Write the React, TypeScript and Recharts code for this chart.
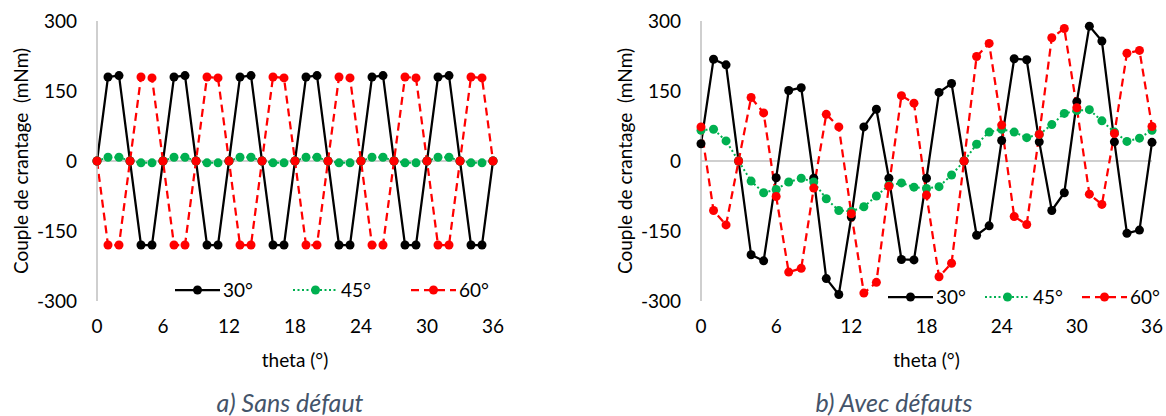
import { LineChart, Line, XAxis, YAxis, ReferenceLine } from "recharts";

const theta = [
  0, 1, 2, 3, 4, 5, 6, 7, 8, 9, 10, 11, 12, 13, 14, 15, 16, 17, 18,
  19, 20, 21, 22, 23, 24, 25, 26, 27, 28, 29, 30, 31, 32, 33, 34, 35, 36,
];
const xTicks = [0, 6, 12, 18, 24, 30, 36];
const yTicks = [-300, -150, 0, 150, 300];

// a) Sans défaut
const sans30 = [
  0, 180, 183, 0, -180, -180, 0, 180, 183, 0, -180, -180, 0, 180, 183, 0, -180, -180, 0,
  180, 183, 0, -180, -180, 0, 180, 183, 0, -180, -180, 0, 180, 183, 0, -180, -180, 0,
];
const sans45 = [
  0, 8, 8, 0, -4, -4, 0, 8, 8, 0, -4, -4, 0, 8, 8, 0, -4, -4, 0,
  8, 8, 0, -4, -4, 0, 8, 8, 0, -4, -4, 0, 8, 8, 0, -4, -4, 0,
];
const sans60 = [
  0, -180, -180, 0, 180, 178, 0, -180, -180, 0, 180, 178, 0, -180, -180, 0, 180, 178, 0,
  -180, -180, 0, 180, 178, 0, -180, -180, 0, 180, 178, 0, -180, -180, 0, 180, 178, 0,
];

// b) Avec défauts
const avec30 = [
  37, 218, 206, 0, -201, -214, -36, 151, 157, -37, -252, -286, -120, 73, 111, -37, -211, -212, -37,
  147, 166, 0, -159, -139, 44, 219, 217, 41, -106, -68, 127, 289, 257, 41, -155, -148, 40,
];
const avec45 = [
  66, 68, 43, 0, -43, -68, -61, -45, -37, -45, -81, -106, -108, -98, -75, -52, -47, -56, -59,
  -55, -30, 0, 36, 62, 68, 62, 50, 57, 78, 102, 108, 110, 86, 62, 42, 49, 66,
];
const avec60 = [
  73, -106, -137, 0, 136, 103, -76, -238, -230, -58, 100, 73, -113, -283, -260, -54, 140, 124, -73,
  -248, -219, 0, 224, 252, 77, -119, -136, 57, 264, 284, 114, -71, -93, 59, 231, 237, 74,
];

const FONT = "Lato, 'Open Sans', sans-serif";
const BLACK = "#000000";
const GREEN = "#00B050";
const RED = "#FF0000";
const AXIS = "#BFBFBF";

const series = [
  { key: "s30", name: "30°", color: BLACK, dash: undefined as string | undefined, width: 2.25 },
  { key: "s45", name: "45°", color: GREEN, dash: "2 2.5", width: 2 },
  { key: "s60", name: "60°", color: RED, dash: "8 5", width: 2.25 },
];

function makeRows(a: number[], b: number[], c: number[]) {
  return theta.map((t, i) => ({ theta: t, s30: a[i], s45: b[i], s60: c[i] }));
}

// legend drawn as an overlay so it doesn't eat plot space
const LegendBox = ({ gap, left, top }: { gap: number; left: number; top: number }) => (
  <div
    style={{
      position: "absolute",
      left,
      top,
      display: "flex",
      alignItems: "center",
      fontFamily: FONT,
      fontSize: 19,
      lineHeight: "22px",
    }}
  >
    {series.map((s) => (
      <div key={s.key} style={{ display: "flex", alignItems: "center", width: gap }}>
        <svg width={45} height={12}>
          <line x1={0} y1={6} x2={45} y2={6} stroke={s.color} strokeWidth={s.width} strokeDasharray={s.dash} />
          <circle cx={22.5} cy={6} r={4.5} fill={s.color} />
        </svg>
        <span style={{ marginLeft: 3, color: "#000" }}>{s.name}</span>
      </div>
    ))}
  </div>
);

type PanelProps = {
  left: number;
  width: number;
  marginRight: number;
  rows: any[];
  legendLeft: number;
  legendTop: number;
  legendGap: number;
  caption: string;
};

function Panel({ left, width, marginRight, rows, legendLeft, legendTop, legendGap, caption }: PanelProps) {
  const plotCenter = (97 + (width - marginRight)) / 2;
  return (
    <div style={{ position: "absolute", left, top: 0, width, height: 416 }}>
      <LineChart width={width} height={345} data={rows} margin={{ top: 21, right: marginRight, left: 0, bottom: 14 }}>
        <XAxis
          dataKey="theta"
          type="number"
          domain={[0, 36]}
          ticks={xTicks}
          axisLine={false}
          tickLine={false}
          tickMargin={13}
          height={30}
          tick={{ fill: "#000", fontSize: 19, fontFamily: FONT }}
        />
        <YAxis
          type="number"
          domain={[-300, 300]}
          ticks={yTicks}
          width={97}
          axisLine={{ stroke: AXIS, strokeWidth: 1.5 }}
          tickLine={false}
          tickMargin={14}
          tick={{ fill: "#000", fontSize: 19, fontFamily: FONT }}
        />
        <ReferenceLine y={0} stroke={AXIS} strokeWidth={1.5} />
        {series.map((s) => (
          <Line
            key={s.key}
            dataKey={s.key}
            name={s.name}
            type="linear"
            stroke={s.color}
            strokeWidth={s.width}
            strokeDasharray={s.dash}
            dot={{ r: 4.5, fill: s.color, stroke: s.color, strokeWidth: 0 }}
            activeDot={false}
            isAnimationActive={false}
          />
        ))}
      </LineChart>
      <LegendBox gap={legendGap} left={legendLeft} top={legendTop} />
      <div
        style={{
          position: "absolute",
          left: 21 - 150,
          top: 161 - 12,
          width: 300,
          height: 24,
          lineHeight: "24px",
          textAlign: "center",
          transform: "rotate(-90deg)",
          fontFamily: FONT,
          fontSize: 19,
          whiteSpace: "pre",
        }}
      >
        {"Couple de crantage  (mNm)"}
      </div>
      <div
        style={{
          position: "absolute",
          left: plotCenter - 100,
          top: 348,
          width: 200,
          textAlign: "center",
          fontFamily: FONT,
          fontSize: 19,
        }}
      >
        theta (°)
      </div>
      <div
        style={{
          position: "absolute",
          left: 290 - 150,
          top: 387,
          width: 300,
          textAlign: "center",
          fontFamily: FONT,
          fontSize: 25,
          fontStyle: "italic",
          color: "#44546A",
        }}
      >
        {caption}
      </div>
    </div>
  );
}

export default function App() {
  return (
    <div style={{ position: "absolute", left: 0, top: 0, width: 1166, height: 416, background: "#fff" }}>
      <Panel
        left={0}
        width={580}
        marginRight={87}
        rows={makeRows(sans30, sans45, sans60)}
        legendLeft={175}
        legendTop={279}
        legendGap={118}
        caption="a) Sans défaut"
      />
      <Panel
        left={604}
        width={562}
        marginRight={14}
        rows={makeRows(avec30, avec45, avec60)}
        legendLeft={284}
        legendTop={286}
        legendGap={97}
        caption="b) Avec défauts"
      />
    </div>
  );
}
